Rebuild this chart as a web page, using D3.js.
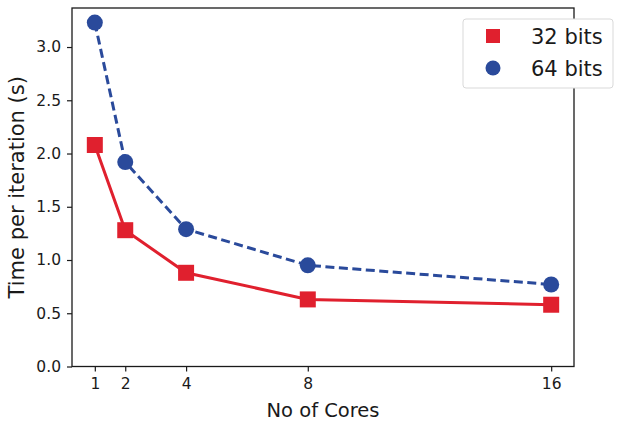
<!DOCTYPE html>
<html><head><meta charset="utf-8">
<script src="https://cdn.jsdelivr.net/npm/d3@7"></script>
<style>body{margin:0;background:#fff}svg{display:block}text{font-family:"DejaVu Sans",sans-serif;fill:#1a1a1a}</style>
</head><body><svg id="c" width="633" height="426"></svg>
<script>
const cores = [1, 2, 4, 8, 16];
const bits32 = [2.08, 1.28, 0.88, 0.63, 0.58];
const bits64 = [3.23, 1.92, 1.29, 0.95, 0.77];
const yTicks = [0.0, 0.5, 1.0, 1.5, 2.0, 2.5, 3.0];
const seriesNames = ["32 bits", "64 bits"];
const red = "#e0202e", blue = "#2a4a9b";

const svg = d3.select("#c");
const L = 72, R = 574, T = 8, B = 366.5;
const x = d3.scaleLinear().domain([0.25, 16.75]).range([L, R]);
const y = d3.scaleLinear().domain([0, 3.3665]).range([B, T]);

const gx = svg.append("g").attr("transform", `translate(0,${B})`)
  .call(d3.axisBottom(x).tickValues(cores).tickFormat(d3.format("d")).tickSize(5).tickPadding(6));
const gy = svg.append("g").attr("transform", `translate(${L},0)`)
  .call(d3.axisLeft(y).tickValues(yTicks).tickFormat(d3.format(".1f")).tickSize(5).tickPadding(6));
[gx, gy].forEach(g => {
  g.select(".domain").remove();
  g.selectAll(".tick line").attr("stroke", "#1a1a1a").attr("stroke-width", 1.2);
  g.selectAll(".tick text").attr("font-size", 15.5).attr("font-family", "DejaVu Sans").attr("fill", "#1a1a1a");
});
svg.append("rect").attr("x", L).attr("y", T).attr("width", R - L).attr("height", B - T)
  .attr("fill", "none").attr("stroke", "#1a1a1a").attr("stroke-width", 1.3);

const line = d3.line().x((d, i) => x(cores[i])).y(d => y(d));
svg.append("path").datum(bits64).attr("d", line).attr("fill", "none")
  .attr("stroke", blue).attr("stroke-width", 3).attr("stroke-dasharray", "9,4.5");
svg.append("path").datum(bits32).attr("d", line).attr("fill", "none")
  .attr("stroke", red).attr("stroke-width", 3);

svg.selectAll(".sq").data(bits32).enter().append("rect")
  .attr("x", (d, i) => x(cores[i]) - 8).attr("y", d => y(d) - 8)
  .attr("width", 16).attr("height", 16).attr("fill", red);
svg.selectAll(".ci").data(bits64).enter().append("circle")
  .attr("cx", (d, i) => x(cores[i])).attr("cy", d => y(d)).attr("r", 8).attr("fill", blue);

// legend
const lg = svg.append("g");
lg.append("rect").attr("x", 463).attr("y", 19).attr("width", 150).attr("height", 69)
  .attr("rx", 3).attr("fill", "#fff").attr("stroke", "#d9d9d9").attr("stroke-width", 1);
lg.append("rect").attr("x", 486).attr("y", 29).attr("width", 14).attr("height", 14).attr("fill", red);
lg.append("circle").attr("cx", 493).attr("cy", 68).attr("r", 7.5).attr("fill", blue);
lg.selectAll(".lt").data(seriesNames).enter().append("text")
  .attr("x", 531).attr("y", (d, i) => 44 + i * 32).attr("font-size", 21).text(d => d);

svg.append("text").attr("x", (L + R) / 2).attr("y", 417).attr("text-anchor", "middle")
  .attr("font-size", 19.5).text("No of Cores");
svg.append("text").attr("transform", `translate(24,${(T + B) / 2}) rotate(-90)`)
  .attr("text-anchor", "middle").attr("font-size", 21).text("Time per iteration (s)");
</script></body></html>
